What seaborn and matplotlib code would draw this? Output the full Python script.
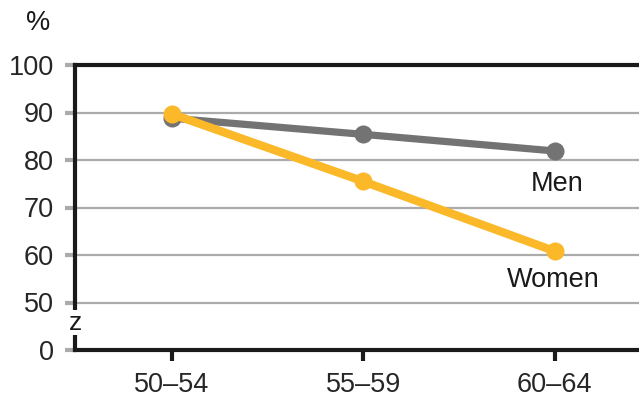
import matplotlib
matplotlib.use("Agg")
import matplotlib.pyplot as plt
from matplotlib.patches import Rectangle
import seaborn as sns
import pandas as pd

age_groups = ["50–54", "55–59", "60–64"]
men = [88.8, 85.4, 81.9]
women = [89.7, 75.5, 60.8]
y_ticks = [40, 50, 60, 70, 80, 90, 100]
y_tick_labels = ["0", "50", "60", "70", "80", "90", "100"]

sns.set_style("white")
plt.rcParams["font.family"] = ["Liberation Sans", "DejaVu Sans"]

GREY = "#737373"
GOLD = "#FBB829"
INK = "#1a1a1a"
FS = 19.5
W, H = 639, 399

df = pd.DataFrame({
    "age": age_groups * 2,
    "pos": [0, 1, 2] * 2,
    "value": men + women,
    "sex": ["Men"] * 3 + ["Women"] * 3,
})

fig = plt.figure(figsize=(W / 100, H / 100), dpi=100)
ax = fig.add_axes([75 / W, 1 - 350 / H, 1 - 75 / W, (350 - 65) / H])

sns.lineplot(data=df, x="pos", y="value", hue="sex", palette={"Men": GREY, "Women": GOLD},
             marker="o", markersize=13, markeredgewidth=0, linewidth=6,
             legend=False, ax=ax)
for line, z in zip(ax.lines, [3, 4]):
    line.set_zorder(z)
    line.set_solid_capstyle("round")
ax.lines[0].set_linewidth(5.2)

ax.set_xlim(-0.505, 2.44)
ax.set_ylim(40, 100)
ax.set_xticks([0, 1, 2])
ax.set_xticklabels(age_groups)
ax.set_yticks(y_ticks)
ax.set_yticklabels(y_tick_labels)
ax.set_xlabel("")
ax.set_ylabel("")

for v in [50, 60, 70, 80, 90]:
    ax.axhline(v, color="#ababab", linewidth=1.6, zorder=1)

for side in ["left", "bottom", "top"]:
    ax.spines[side].set_visible(True)
    ax.spines[side].set_color(INK)
    ax.spines[side].set_linewidth(3)
ax.spines["right"].set_visible(False)

ax.tick_params(axis="y", length=7, width=3, color="#ababab", labelsize=FS, pad=8, left=True)
ax.tick_params(axis="x", length=8, width=3, color=INK, labelsize=FS, pad=8,
               bottom=True, direction="out")

# axis break: white gap in the y spine with a "z" mark
fig.patches.append(Rectangle((57 / W, 1 - 335 / H), 35 / W, 25 / H,
                             transform=fig.transFigure, facecolor="white",
                             edgecolor="none", zorder=10))
fig.text(75 / W, 1 - 323 / H, "z", ha="center", va="center",
         fontsize=19, color=INK, zorder=11)

ax.text(2.01, 75.0, "Men", ha="center", va="center", fontsize=FS, color=INK)
ax.text(1.99, 54.8, "Women", ha="center", va="center", fontsize=FS, color=INK)
fig.text(38 / W, 1 - 23 / H, "%", ha="center", va="center", fontsize=FS, color=INK)

fig.savefig("out.png", dpi=100)
